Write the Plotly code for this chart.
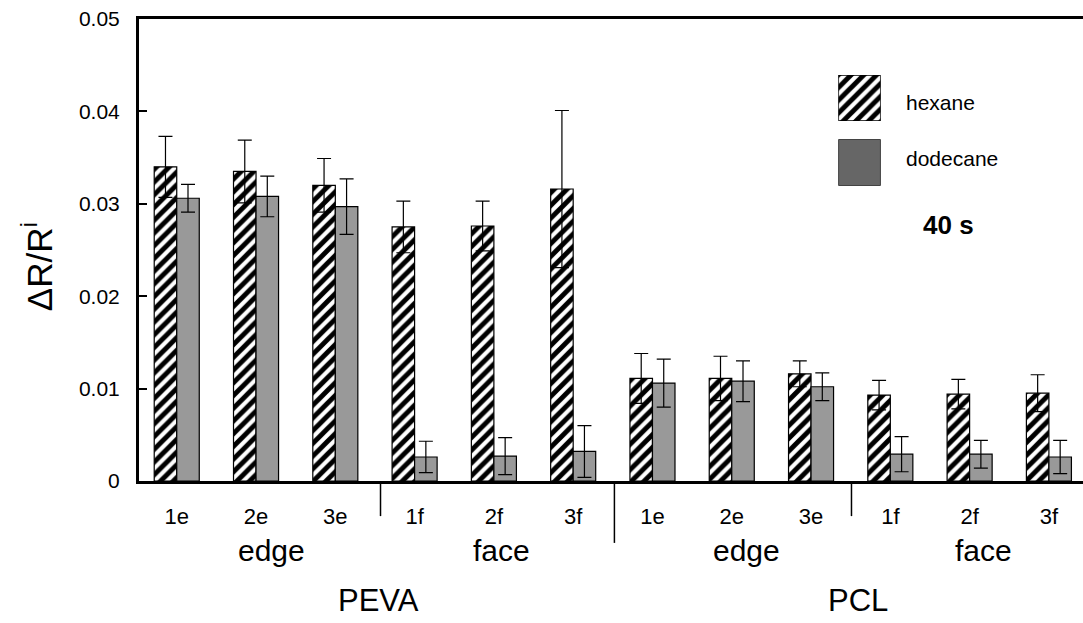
import plotly.graph_objects as go

# ---- data ----
sample_labels = ["1e", "2e", "3e", "1f", "2f", "3f", "1e", "2e", "3e", "1f", "2f", "3f"]
hexane = [0.0340, 0.0335, 0.0320, 0.0275, 0.0276, 0.0316, 0.0111, 0.0111, 0.0116, 0.0093, 0.0094, 0.0095]
hexane_err = [0.0033, 0.0034, 0.0029, 0.0028, 0.0027, 0.0085, 0.0027, 0.0024, 0.0014, 0.0016, 0.0016, 0.0020]
dodecane = [0.0306, 0.0308, 0.0297, 0.0026, 0.0027, 0.0032, 0.0106, 0.0108, 0.0102, 0.0029, 0.0029, 0.0026]
dodecane_err = [0.0015, 0.0022, 0.0030, 0.0017, 0.0020, 0.0028, 0.0026, 0.0022, 0.0015, 0.0019, 0.0015, 0.0018]
orientation_labels = ["edge", "face", "edge", "face"]
orientation_pos = [1.2, 4.09, 7.19, 10.17]
polymer_labels = ["PEVA", "PCL"]
polymer_pos = [2.55, 8.59]
divider_pos = [2.57, 5.52, 8.51]
divider_len = [-0.076, -0.134, -0.076]
series_names = ["hexane", "dodecane"]

FONT = "Liberation Sans, Arial, sans-serif"
x = list(range(len(sample_labels)))

hatch = dict(shape="/", fgcolor="black", bgcolor="white", fgopacity=1, size=9, solidity=0.55)
fig = go.Figure()
fig.add_trace(go.Bar(
    x=x, y=hexane, name=series_names[0],
    marker=dict(color="white", pattern=hatch, line=dict(color="black", width=1.2)),
    error_y=dict(type="data", array=hexane_err, color="black", thickness=1.2, width=7),
    showlegend=False))
fig.add_trace(go.Bar(
    x=x, y=dodecane, name=series_names[1],
    marker=dict(color="#999999", line=dict(color="black", width=1.2)),
    error_y=dict(type="data", array=dodecane_err, color="black", thickness=1.2, width=7),
    showlegend=False))

# legend swatches on small helper axes
fig.add_trace(go.Bar(x=[0], y=[1], width=[1], xaxis="x2", yaxis="y2", showlegend=False,
                     cliponaxis=False, hoverinfo="skip",
                     marker=dict(color="white", pattern=hatch, line=dict(color="black", width=1.5))))
fig.add_trace(go.Bar(x=[0], y=[1], width=[1], xaxis="x3", yaxis="y3", showlegend=False,
                     cliponaxis=False, hoverinfo="skip",
                     marker=dict(color="#666666", line=dict(color="#222222", width=1.5))))

hidden = dict(visible=False, range=[-0.5, 0.5], fixedrange=True)
hidden_y = dict(visible=False, range=[0, 1], fixedrange=True)

fig.update_layout(
    width=1083, height=623,
    margin=dict(l=139, r=0, t=19, b=142),
    paper_bgcolor="white", plot_bgcolor="white",
    barmode="group", bargap=0.432, bargroupgap=0,
    font=dict(family=FONT, color="black"),
    xaxis=dict(range=[-0.476, 11.43], tickvals=x, ticktext=sample_labels,
               showline=True, linecolor="black", linewidth=3, mirror=True,
               ticks="", showgrid=False, zeroline=False,
               tickfont=dict(size=22, family=FONT), ticklabelstandoff=14),
    yaxis=dict(range=[0, 0.05], dtick=0.01, showline=True, linecolor="black", linewidth=3,
               ticks="inside", ticklen=8, tickwidth=2, tickcolor="black",
               showgrid=False, zeroline=False,
               tickfont=dict(size=21, family=FONT), ticklabelstandoff=12),
    xaxis2=dict(domain=[0.7408, 0.7857], anchor="y2", **hidden),
    yaxis2=dict(domain=[0.7792, 0.8788], anchor="x2", **hidden_y),
    xaxis3=dict(domain=[0.7408, 0.7857], anchor="y3", **hidden),
    yaxis3=dict(domain=[0.6392, 0.7396], anchor="x3", **hidden_y),
)

shapes = []
for p, ln in zip(divider_pos, divider_len):
    shapes.append(dict(type="line", xref="x", yref="paper", x0=p, x1=p, y0=0, y1=ln,
                       line=dict(color="black", width=1.5)))
fig.update_layout(shapes=shapes)

ann = []
for lab, p in zip(orientation_labels, orientation_pos):
    ann.append(dict(text=lab, x=p, y=-0.1515, xref="x", yref="paper", showarrow=False,
                    xanchor="center", yanchor="middle", font=dict(size=30, family=FONT)))
for lab, p in zip(polymer_labels, polymer_pos):
    ann.append(dict(text=lab, x=p, y=-0.2576, xref="x", yref="paper", showarrow=False,
                    xanchor="center", yanchor="middle", font=dict(size=31, family=FONT)))
ann.append(dict(text=series_names[0], x=0.8104, y=0.8188, xref="paper", yref="paper",
                showarrow=False, xanchor="left", yanchor="middle", font=dict(size=21, family=FONT)))
ann.append(dict(text=series_names[1], x=0.8104, y=0.697, xref="paper", yref="paper",
                showarrow=False, xanchor="left", yanchor="middle", font=dict(size=21, family=FONT)))
ann.append(dict(text="<b>40 s</b>", x=0.858, y=0.554, xref="paper", yref="paper",
                showarrow=False, xanchor="center", yanchor="middle", font=dict(size=26, family=FONT)))
ann.append(dict(text="ΔR/R<sup>i</sup>", x=-0.108, y=0.463, xref="paper", yref="paper",
                showarrow=False, xanchor="center", yanchor="middle", textangle=-90,
                font=dict(size=35, family=FONT)))
fig.update_layout(annotations=ann)

fig.write_html("out.html", config={"displayModeBar": False},
               post_script="document.body.style.margin='0';")
